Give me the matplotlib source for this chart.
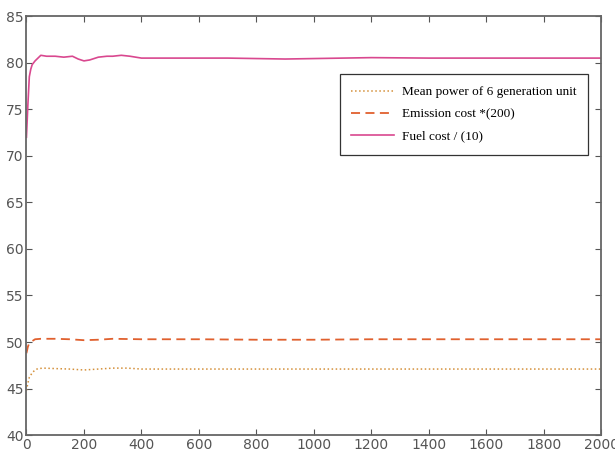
import matplotlib
matplotlib.use("Agg")
import matplotlib.pyplot as plt

# iterations and values
it_fuel = [0, 5, 10, 15, 20, 30, 40, 50, 70, 100, 130, 160, 180, 200, 220, 250, 280, 300, 330, 360, 400, 500, 600, 700, 800, 900, 1000, 1100, 1200, 1400, 1600, 1800, 2000]
fuel = [72.0, 75.5, 78.5, 79.3, 79.8, 80.2, 80.5, 80.8, 80.7, 80.7, 80.6, 80.7, 80.4, 80.2, 80.3, 80.6, 80.7, 80.7, 80.8, 80.7, 80.5, 80.5, 80.5, 80.5, 80.45, 80.4, 80.45, 80.5, 80.55, 80.5, 80.5, 80.5, 80.5]

it_em = [0, 5, 10, 20, 30, 50, 100, 150, 200, 250, 300, 400, 600, 800, 1000, 1200, 1400, 1600, 1800, 2000]
emission = [48.8, 49.5, 49.9, 50.1, 50.3, 50.35, 50.35, 50.3, 50.2, 50.25, 50.35, 50.3, 50.3, 50.25, 50.25, 50.3, 50.3, 50.3, 50.3, 50.3]

it_pw = [0, 5, 10, 20, 30, 40, 60, 100, 150, 200, 250, 300, 350, 400, 600, 800, 1000, 1200, 1400, 1600, 1800, 2000]
power = [44.8, 45.6, 46.2, 46.7, 47.0, 47.15, 47.2, 47.15, 47.1, 47.0, 47.1, 47.2, 47.2, 47.1, 47.1, 47.1, 47.1, 47.1, 47.1, 47.1, 47.1, 47.1]

xticks = list(range(0, 2001, 200))
yticks = list(range(40, 86, 5))

fig = plt.figure(figsize=(6.15, 4.5), dpi=100)
ax = fig.add_axes([0.043, 0.033, 0.935, 0.931])

ax.plot(it_pw, power, linestyle=":", color="#d4903a", linewidth=1.1, label="Mean power of 6 generation unit")
ax.plot(it_em, emission, linestyle=(0, (5, 3)), color="#e0602e", linewidth=1.3, label="Emission cost *(200)")
ax.plot(it_fuel, fuel, linestyle="-", color="#d9488f", linewidth=1.2, label="Fuel cost / (10)")

ax.set_xlim(0, 2000)
ax.set_ylim(40, 85)
ax.set_xticks(xticks)
ax.set_yticks(yticks)
ax.tick_params(direction="in", top=True, right=True, labelsize=10, colors="#555555", length=4, pad=2)
for s in ax.spines.values():
    s.set_color("#666666")
    s.set_linewidth(1.3)

leg = ax.legend(loc="upper right", bbox_to_anchor=(0.988, 0.877), prop={"family": "Liberation Serif", "size": 9.5},
                fancybox=False, edgecolor="#333333", framealpha=1, handlelength=3.2, handletextpad=0.6,
                borderpad=0.9, labelspacing=0.75)
leg.get_frame().set_linewidth(0.9)

fig.savefig("out.png", dpi=100)
